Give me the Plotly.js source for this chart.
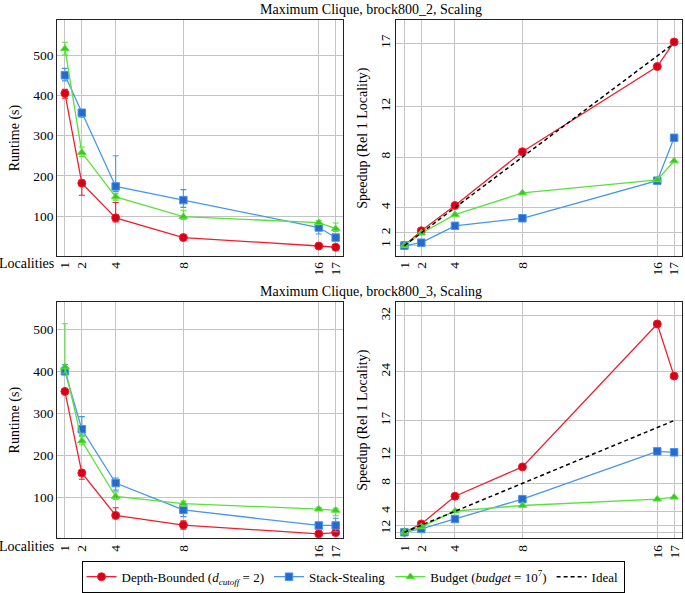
<!DOCTYPE html>
<html>
<head>
<meta charset="utf-8">
<script src="https://cdn.plot.ly/plotly-3.0.1.min.js"></script>
<style>html,body{margin:0;padding:0;background:#fff;}#chart{width:685px;height:593px;}</style>
</head>
<body>
<div id="chart"></div>
<script>
// ---- data ----
const localities = [1, 2, 4, 8, 16, 17];
const xTickLabels = ["1", "2", "4", "8", "16", "17"];

// brock800_2 runtime (s)
const rt2Depth = [405, 182, 96, 47, 26, 23];
const rt2DepthErrPlus = [10, 8, 38, 5, 3, 3];
const rt2DepthErrMinus = [12, 30, 10, 6, 3, 3];
const rt2Stack = [450, 357, 174, 140, 72, 47];
const rt2StackErrPlus = [17, 7, 76, 26, 12, 4];
const rt2StackErrMinus = [14, 11, 13, 18, 16, 4];
const rt2Budget = [516, 258, 148, 99, 84, 69];
const rt2BudgetErrPlus = [16, 14, 8, 16, 5, 14];
const rt2BudgetErrMinus = [16, 10, 8, 7, 5, 7];

// brock800_2 speedup
const sp2Depth = [1, 2.17, 4.17, 8.42, 15.16, 17.1];
const sp2Stack = [1, 1.23, 2.56, 3.16, 6.13, 9.52];
const sp2Budget = [1, 1.98, 3.45, 5.16, 6.2, 7.69];

// brock800_3 runtime (s)
const rt3Depth = [352, 158, 57, 34, 13, 16];
const rt3DepthErrPlus = [5, 8, 18, 10, 3, 4];
const rt3DepthErrMinus = [5, 15, 8, 10, 3, 4];
const rt3Stack = [400, 262, 134, 70, 33, 33];
const rt3StackErrPlus = [16, 30, 12, 11, 5, 17];
const rt3StackErrMinus = [8, 14, 17, 16, 5, 15];
const rt3Budget = [410, 234, 102, 85, 72, 69];
const rt3BudgetErrPlus = [103, 11, 11, 6, 4, 5];
const rt3BudgetErrMinus = [14, 9, 7, 6, 4, 13];

// brock800_3 speedup
const sp3Depth = [1, 2.19, 6.16, 10.36, 30.84, 23.37];
const sp3Stack = [1, 1.48, 2.9, 5.74, 12.59, 12.45];
const sp3Budget = [1, 1.77, 4.04, 4.83, 5.74, 6.02];

const ideal = [1, 2, 4, 8, 16, 17];

const runtimeTicks = [100, 200, 300, 400, 500];
const speedup2Ticks = [1, 2, 4, 8, 12, 17];
const speedup3Ticks = [1, 2, 4, 8, 12, 17, 24, 32];

const seriesNames = [
  "Depth-Bounded (<i>d</i><sub><i>cutoff</i></sub> = 2)",
  "Stack-Stealing",
  "Budget (<i>budget</i> = 10<sup>7</sup>)",
  "Ideal"
];
const titles = ["Maximum Clique, brock800_2, Scaling", "Maximum Clique, brock800_3, Scaling"];

// ---- styles ----
const FONT = "'Liberation Serif', 'DejaVu Serif', serif";
const styles = [
  {line: "rgb(240,30,45)", fill: "rgb(215,0,25)", symbol: "circle", size: 8},
  {line: "rgb(70,150,235)", fill: "rgb(40,105,205)", symbol: "square", size: 7.5},
  {line: "rgb(90,225,60)", fill: "rgb(60,200,30)", symbol: "triangle-up", size: 7.5}
];

function series(k, y, xa, ya, plus, minus, showleg) {
  const s = styles[k];
  const t = {
    type: "scatter", mode: "lines+markers", x: localities, y: y,
    xaxis: xa, yaxis: ya, name: seriesNames[k], showlegend: showleg, legendgroup: "g" + k,
    line: {color: s.line, width: 1.3},
    marker: {symbol: s.symbol, size: s.size, color: s.fill, line: {color: s.line, width: 1}}
  };
  if (plus) {
    t.error_y = {type: "data", symmetric: false, array: plus, arrayminus: minus,
                 color: s.line, thickness: 1.1, width: 3};
  }
  return t;
}
function idealTrace(xa, ya, showleg) {
  return {type: "scatter", mode: "lines", x: localities, y: ideal, xaxis: xa, yaxis: ya,
          name: seriesNames[3], showlegend: showleg, legendgroup: "g3",
          line: {color: "black", width: 1.5, dash: "4px,3px"}};
}

const data = [
  series(0, rt2Depth, "x", "y", rt2DepthErrPlus, rt2DepthErrMinus, true),
  series(1, rt2Stack, "x", "y", rt2StackErrPlus, rt2StackErrMinus, true),
  series(2, rt2Budget, "x", "y", rt2BudgetErrPlus, rt2BudgetErrMinus, true),
  series(0, sp2Depth, "x2", "y2", null, null, false),
  series(1, sp2Stack, "x2", "y2", null, null, false),
  series(2, sp2Budget, "x2", "y2", null, null, false),
  idealTrace("x2", "y2", true),
  series(0, rt3Depth, "x3", "y3", rt3DepthErrPlus, rt3DepthErrMinus, false),
  series(1, rt3Stack, "x3", "y3", rt3StackErrPlus, rt3StackErrMinus, false),
  series(2, rt3Budget, "x3", "y3", rt3BudgetErrPlus, rt3BudgetErrMinus, false),
  series(0, sp3Depth, "x4", "y4", null, null, false),
  series(1, sp3Stack, "x4", "y4", null, null, false),
  series(2, sp3Budget, "x4", "y4", null, null, false),
  idealTrace("x4", "y4", false)
];

const W = 685, H = 593;
const px = v => v / W, py = v => 1 - v / H;

function xAxis(domain, range, yref) {
  return {domain: domain, range: range, anchor: yref, tickmode: "array",
          tickvals: localities, ticktext: xTickLabels, tickangle: -90,
          showgrid: true, gridcolor: "#c4c4c4", gridwidth: 1, zeroline: false,
          showline: true, mirror: true, linecolor: "#222", linewidth: 1, ticks: "",
          tickfont: {family: FONT, size: 13.5, color: "black"}};
}
function yAxis(domain, range, xref, ticks, angle, title, standoff) {
  return {domain: domain, range: range, anchor: xref, tickmode: "array", tickvals: ticks,
          tickangle: angle, showgrid: true, gridcolor: "#c4c4c4", gridwidth: 1, zeroline: false,
          showline: true, mirror: true, linecolor: "#222", linewidth: 1, ticks: "",
          tickfont: {family: FONT, size: 13.5, color: "black"},
          title: {text: title, standoff: standoff, font: {family: FONT, size: 14, color: "black"}}};
}

const xdL = [px(57.3), px(343.3)], xdR = [px(396), px(681.7)];
const ydT = [py(258.3), py(20.7)], ydB = [py(544), py(305)];

const layout = {
  width: W, height: H, margin: {l: 0, r: 0, t: 0, b: 0},
  paper_bgcolor: "white", plot_bgcolor: "white",
  font: {family: FONT, size: 13.5, color: "black"},
  xaxis: xAxis(xdL, [0.55, 17.45], "y"),
  yaxis: yAxis(ydT, [2, 586], "x", runtimeTicks, 0, "Runtime (s)", 10),
  xaxis2: xAxis(xdR, [0.5, 17.45], "y2"),
  yaxis2: yAxis(ydT, [0.2, 18.8], "x2", speedup2Ticks, -90, "Speedup (Rel 1 Locality)", 6),
  xaxis3: xAxis(xdL, [0.55, 17.45], "y3"),
  yaxis3: yAxis(ydB, [2, 565], "x3", runtimeTicks, 0, "Runtime (s)", 10),
  xaxis4: xAxis(xdR, [0.5, 17.45], "y4"),
  yaxis4: yAxis(ydB, [0.1, 34], "x4", speedup3Ticks, -90, "Speedup (Rel 1 Locality)", 6),
  annotations: [
    {text: titles[0], xref: "paper", yref: "paper", x: px(371), y: py(9.5), xanchor: "center", yanchor: "middle",
     showarrow: false, font: {family: FONT, size: 14}},
    {text: titles[1], xref: "paper", yref: "paper", x: px(371), y: py(294), xanchor: "center", yanchor: "middle",
     showarrow: false, font: {family: FONT, size: 14}},
    {text: "Localities", xref: "paper", yref: "paper", x: px(56), y: py(266), xanchor: "right", yanchor: "middle",
     showarrow: false, font: {family: FONT, size: 14}},
    {text: "Localities", xref: "paper", yref: "paper", x: px(56), y: py(552), xanchor: "right", yanchor: "middle",
     showarrow: false, font: {family: FONT, size: 14}}
  ],
  legend: {orientation: "h", x: px(353), xanchor: "center", y: py(566.5), yanchor: "top",
           bordercolor: "black", borderwidth: 1, bgcolor: "white",
           font: {family: FONT, size: 13}, itemwidth: 30, tracegroupgap: 0}
};

Plotly.newPlot("chart", data, layout, {displayModeBar: false, staticPlot: true});
</script>
</body>
</html>
